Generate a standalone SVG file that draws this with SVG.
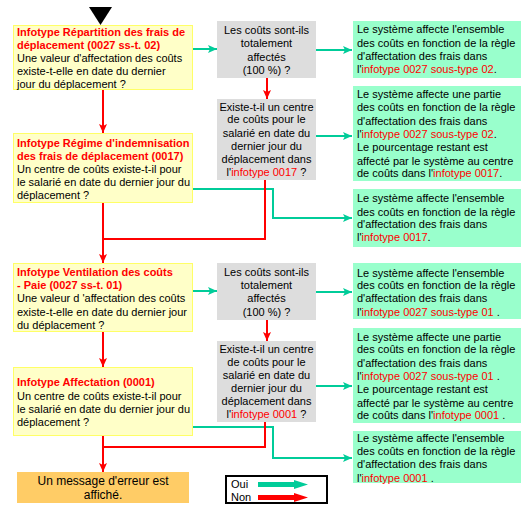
<svg xmlns="http://www.w3.org/2000/svg" width="532" height="512" viewBox="0 0 532 512">
<defs>
<style>
text{font-family:"Liberation Sans",Arial,sans-serif;font-size:11px;fill:#000}
.t{font-weight:bold;fill:#ff0000}
.r{fill:#ff0000}
.c{text-anchor:middle}
.yb{fill:#ffffc8;stroke:#ffff66;stroke-width:1}
.gb{fill:#dddddd}
.grb{fill:#99ffcc}
.ob{fill:#ffcc66}
.yes{fill:none;stroke:#00cc99;stroke-width:2}
.no{fill:none;stroke:#ff0000;stroke-width:2}
</style>
<marker id="ay" markerUnits="userSpaceOnUse" markerWidth="10" markerHeight="10" refX="9" refY="5" orient="auto"><path d="M0,1 L9,5 L0,9 L2,5 Z" fill="#00cc99"/></marker>
<marker id="an" markerUnits="userSpaceOnUse" markerWidth="10" markerHeight="10" refX="9" refY="5" orient="auto"><path d="M0,1 L9,5 L0,9 L2,5 Z" fill="#ff0000"/></marker>
</defs>
<rect width="532" height="512" fill="#ffffff"/>
<polygon points="89,7 112,7 100.5,25" fill="#000"/>

<g id="connectors">
<path class="yes" d="M193,49 H217" marker-end="url(#ay)"/>
<path class="yes" d="M316,50 H352" marker-end="url(#ay)"/>
<path class="yes" d="M316,136 H352" marker-end="url(#ay)"/>
<path class="yes" d="M193,189 H273 V218 H352" marker-end="url(#ay)"/>
<path class="yes" d="M193,291 H217" marker-end="url(#ay)"/>
<path class="yes" d="M316,292 H352" marker-end="url(#ay)"/>
<path class="yes" d="M316,386 H352" marker-end="url(#ay)"/>
<path class="yes" d="M193,427 H273 V458 H352" marker-end="url(#ay)"/>
<path class="no" d="M103,90 V133" marker-end="url(#an)"/>
<path class="no" d="M267,78 V99" marker-end="url(#an)"/>
<path class="no" d="M103,203 V263" marker-end="url(#an)"/>
<path class="no" d="M265,180 V239 H103"/>
<path class="no" d="M103,332 V367" marker-end="url(#an)"/>
<path class="no" d="M267,320 V341" marker-end="url(#an)"/>
<path class="no" d="M103,436 V472" marker-end="url(#an)"/>
<path class="no" d="M265,422 V447 H103"/>
</g>

<g id="box1">
<rect class="yb" x="13.5" y="25.5" width="179" height="64"/>
<text x="17" y="36" class="t">Infotype Répartition des frais de</text>
<text x="17" y="49" class="t">déplacement (0027 ss-t. 02)</text>
<text x="17" y="62">Une valeur d'affectation des coûts</text>
<text x="17" y="75">existe-t-elle en date du dernier</text>
<text x="17" y="88">jour du déplacement ?</text>
</g>
<g id="box2">
<rect class="yb" x="13.5" y="133.5" width="179" height="69"/>
<text x="17" y="147" class="t">Infotype Régime d'indemnisation</text>
<text x="17" y="160" class="t">des frais de déplacement (0017)</text>
<text x="17" y="173">Un centre de coûts existe-t-il pour</text>
<text x="17" y="186">le salarié en date du dernier jour du</text>
<text x="17" y="199">déplacement ?</text>
</g>
<g id="box3">
<rect class="yb" x="13.5" y="263.5" width="179" height="68"/>
<text x="17" y="276" class="t">Infotype Ventilation des coûts</text>
<text x="17" y="289" class="t">- Paie (0027 ss-t. 01)</text>
<text x="17" y="302">Une valeur d 'affectation des coûts</text>
<text x="17" y="316">existe-t-elle en date du dernier jour</text>
<text x="17" y="329">du déplacement ?</text>
</g>
<g id="box4">
<rect class="yb" x="13.5" y="367.5" width="179" height="68"/>
<text x="17" y="386" class="t">Infotype Affectation (0001)</text>
<text x="17" y="400">Un centre de coûts existe-t-il pour</text>
<text x="17" y="413">le salarié en date du dernier jour du</text>
<text x="17" y="426">déplacement ?</text>
</g>
<g id="error">
<rect class="ob" x="17" y="472" width="172" height="31"/>
<text x="103" y="485" class="c" style="font-size:12px">Un message d'erreur est</text>
<text x="103" y="499" class="c" style="font-size:12px">affiché.</text>
</g>

<g id="q1">
<rect class="gb" x="217" y="21" width="99" height="57"/>
<text x="266.5" y="34" class="c">Les coûts sont-ils</text>
<text x="266.5" y="47" class="c">totalement</text>
<text x="266.5" y="61" class="c">affectés</text>
<text x="266.5" y="74" class="c">(100 %) ?</text>
</g>
<g id="q2">
<rect class="gb" x="217" y="99" width="99" height="81"/>
<text x="266.5" y="111" class="c">Existe-t-il un centre</text>
<text x="266.5" y="123" class="c">de coûts pour le</text>
<text x="266.5" y="137" class="c">salarié en date du</text>
<text x="266.5" y="150" class="c">dernier jour du</text>
<text x="266.5" y="163" class="c">déplacement dans</text>
<text x="266.5" y="176" class="c">l'<tspan class="r">infotype 0017</tspan> ?</text>
</g>
<g id="q3">
<rect class="gb" x="217" y="263" width="99" height="57"/>
<text x="266.5" y="276" class="c">Les coûts sont-ils</text>
<text x="266.5" y="289" class="c">totalement</text>
<text x="266.5" y="302" class="c">affectés</text>
<text x="266.5" y="316" class="c">(100 %) ?</text>
</g>
<g id="q4">
<rect class="gb" x="217" y="341" width="99" height="81"/>
<text x="266.5" y="353" class="c">Existe-t-il un centre</text>
<text x="266.5" y="366" class="c">de coûts pour le</text>
<text x="266.5" y="379" class="c">salarié en date du</text>
<text x="266.5" y="392" class="c">dernier jour du</text>
<text x="266.5" y="405" class="c">déplacement dans</text>
<text x="266.5" y="418" class="c">l'<tspan class="r">infotype 0001</tspan> ?</text>
</g>

<g id="res1">
<rect class="grb" x="353" y="21" width="168" height="57"/>
<text x="357" y="33">Le système affecte l'ensemble</text>
<text x="357" y="47">des coûts en fonction de la règle</text>
<text x="357" y="60">d'affectation des frais dans</text>
<text x="357" y="73">l'<tspan class="r">infotype 0027 sous-type 02</tspan>.</text>
</g>
<g id="res2">
<rect class="grb" x="353" y="86" width="168" height="95"/>
<text x="357" y="98">Le système affecte une partie</text>
<text x="357" y="111">des coûts en fonction de la règle</text>
<text x="357" y="125">d'affectation des frais dans</text>
<text x="357" y="138">l'<tspan class="r">infotype 0027 sous-type 02</tspan>.</text>
<text x="357" y="151">Le pourcentage restant est</text>
<text x="357" y="165">affecté par le système au centre</text>
<text x="357" y="177">de coûts dans l'<tspan class="r">infotype 0017</tspan>.</text>
</g>
<g id="res3">
<rect class="grb" x="353" y="189" width="168" height="58"/>
<text x="357" y="202">Le système affecte l'ensemble</text>
<text x="357" y="216">des coûts en fonction de la règle</text>
<text x="357" y="228">d'affectation des frais dans</text>
<text x="357" y="241">l'<tspan class="r">infotype 0017</tspan>.</text>
</g>
<g id="res4">
<rect class="grb" x="353" y="263" width="168" height="56"/>
<text x="357" y="277">Le système affecte l'ensemble</text>
<text x="357" y="289">des coûts en fonction de la règle</text>
<text x="357" y="302">d'affectation des frais dans</text>
<text x="357" y="316">l'<tspan class="r">infotype 0027 sous-type 01</tspan> .</text>
</g>
<g id="res5">
<rect class="grb" x="353" y="328" width="168" height="95"/>
<text x="357" y="341">Le système affecte une partie</text>
<text x="357" y="353">des coûts en fonction de la règle</text>
<text x="357" y="367">d'affectation des frais dans</text>
<text x="357" y="380">l'<tspan class="r">infotype 0027 sous-type 01</tspan> .</text>
<text x="357" y="393">Le pourcentage restant est</text>
<text x="357" y="407">affecté par le système au centre</text>
<text x="357" y="419">de coûts dans l'<tspan class="r">infotype 0001</tspan> .</text>
</g>
<g id="res6">
<rect class="grb" x="353" y="431" width="168" height="52"/>
<text x="357" y="442">Le système affecte l'ensemble</text>
<text x="357" y="455">des coûts en fonction de la règle</text>
<text x="357" y="468">d'affectation des frais dans</text>
<text x="357" y="482">l'<tspan class="r">infotype 0001</tspan> .</text>
</g>

<g id="legend">
<rect x="226" y="476" width="101" height="27" fill="#fff" stroke="#000" stroke-width="2"/>
<text x="231" y="488">Oui</text>
<text x="231" y="501">Non</text>
<path d="M258,482 H294 V480 L308,484.5 L294,489 V487 H258 Z" fill="#00cc99"/>
<path d="M258,495 H294 V493 L308,497.5 L294,502 V500 H258 Z" fill="#ff0000"/>
</g>
</svg>
